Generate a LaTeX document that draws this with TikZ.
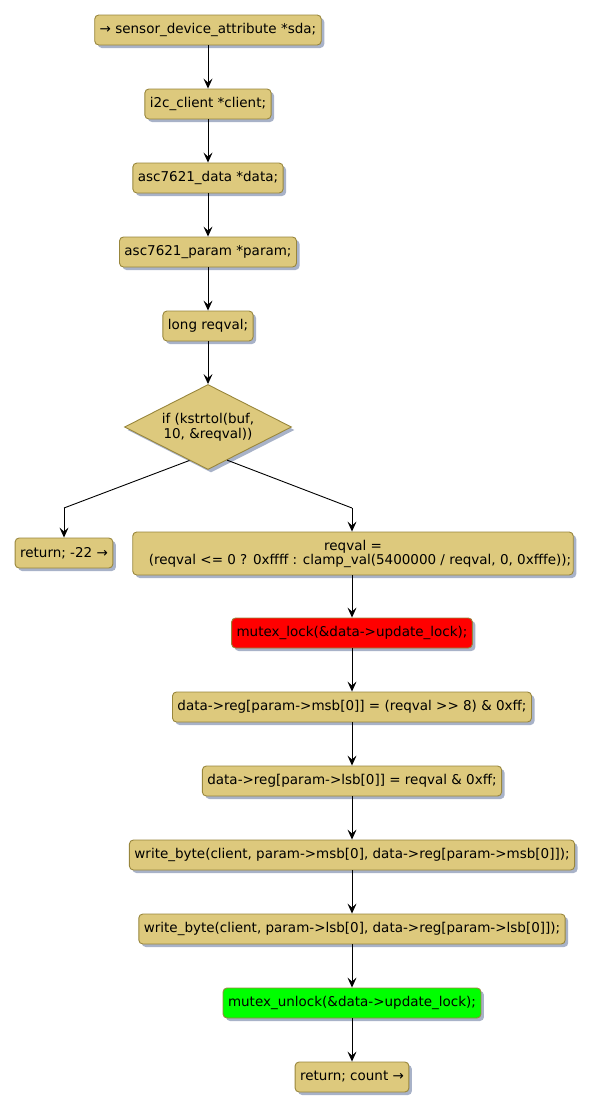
\documentclass[tikz,border=0pt]{standalone}
\usepackage{fontspec}
\setmainfont{DejaVu Sans}
\usetikzlibrary{arrows.meta,shapes.geometric,shadows}
\definecolor{boxfill}{RGB}{221,201,125}
\definecolor{boxline}{RGB}{152,134,60}
\definecolor{shadowc}{RGB}{168,178,200}
\begin{document}
\begin{tikzpicture}[
    x=1pt, y=-1pt,
    box/.style={rectangle, draw=boxline, line width=0.9pt, rounded corners=4pt, fill=boxfill, minimum height=30pt, inner xsep=5pt, font=\fontsize{13.5}{14}\selectfont, align=center, drop shadow={shadow xshift=3pt, shadow yshift=-3pt, opacity=1, fill=shadowc}},
    cond/.style={diamond, draw=boxline, line width=0.9pt, fill=boxfill, aspect=2, inner sep=0pt, minimum width=167pt, minimum height=85pt, font=\fontsize{13.5}{15}\selectfont, align=center, drop shadow={shadow xshift=3pt, shadow yshift=-3pt, opacity=1, fill=shadowc}},
    arr/.style={-{Stealth[length=10pt, width=9pt, inset=4pt]}, line width=0.9pt, black},
    line/.style={line width=0.9pt, black},
]
\useasboundingbox (0,0) rectangle (593,1111);
\node[box] (sda) at (208,30) {→ sensor\_device\_attribute *sda;};
\node[box] (client) at (208,104) {i2c\_client *client;};
\node[box] (data) at (208,178) {asc7621\_data *data;};
\node[box] (param) at (208,252) {asc7621\_param *param;};
\node[box] (reqval) at (208,326) {long reqval;};
\node[cond] (kstr) at (208,427) {if (kstrtol(buf,\\10, \&reqval))};
\node[box] (einval) at (64,553) {return; -22 →};
\node[box, minimum height=43pt, inner xsep=2pt] (clamp) at (353,553.5) {reqval =\\\hspace*{14pt}(reqval <= 0 ? 0xffff : clamp\_val(5400000 / reqval, 0, 0xfffe));};
\node[box, fill=red] (lock) at (352,633) {mutex\_lock(\&data->update\_lock);};
\node[box] (msb) at (352,707) {data->reg[param->msb[0]] = (reqval >{}> 8) \& 0xff;};
\node[box] (lsb) at (352,781) {data->reg[param->lsb[0]] = reqval \& 0xff;};
\node[box] (wmsb) at (352,855) {write\_byte(client, param->msb[0], data->reg[param->msb[0]]);};
\node[box] (wlsb) at (352,929) {write\_byte(client, param->lsb[0], data->reg[param->lsb[0]]);};
\node[box, fill=green] (unlock) at (352,1003) {mutex\_unlock(\&data->update\_lock);};
\node[box] (count) at (352,1077) {return; count →};
\coordinate (lk) at (64,508);
\coordinate (rk) at (352,508);
\draw[arr] (sda) -- (client);
\draw[arr] (client) -- (data);
\draw[arr] (data) -- (param);
\draw[arr] (param) -- (reqval);
\draw[arr] (reqval) -- (kstr);
\draw[line] (kstr.241) -- (lk);
\draw[arr] (lk) -- (einval);
\draw[line] (kstr.300) -- (rk);
\draw[arr] (rk) -- (clamp.north -| rk);
\draw[arr] (clamp.south -| lock) -- (lock);
\draw[arr] (lock) -- (msb);
\draw[arr] (msb) -- (lsb);
\draw[arr] (lsb) -- (wmsb);
\draw[arr] (wmsb) -- (wlsb);
\draw[arr] (wlsb) -- (unlock);
\draw[arr] (unlock) -- (count);
\end{tikzpicture}
\end{document}
